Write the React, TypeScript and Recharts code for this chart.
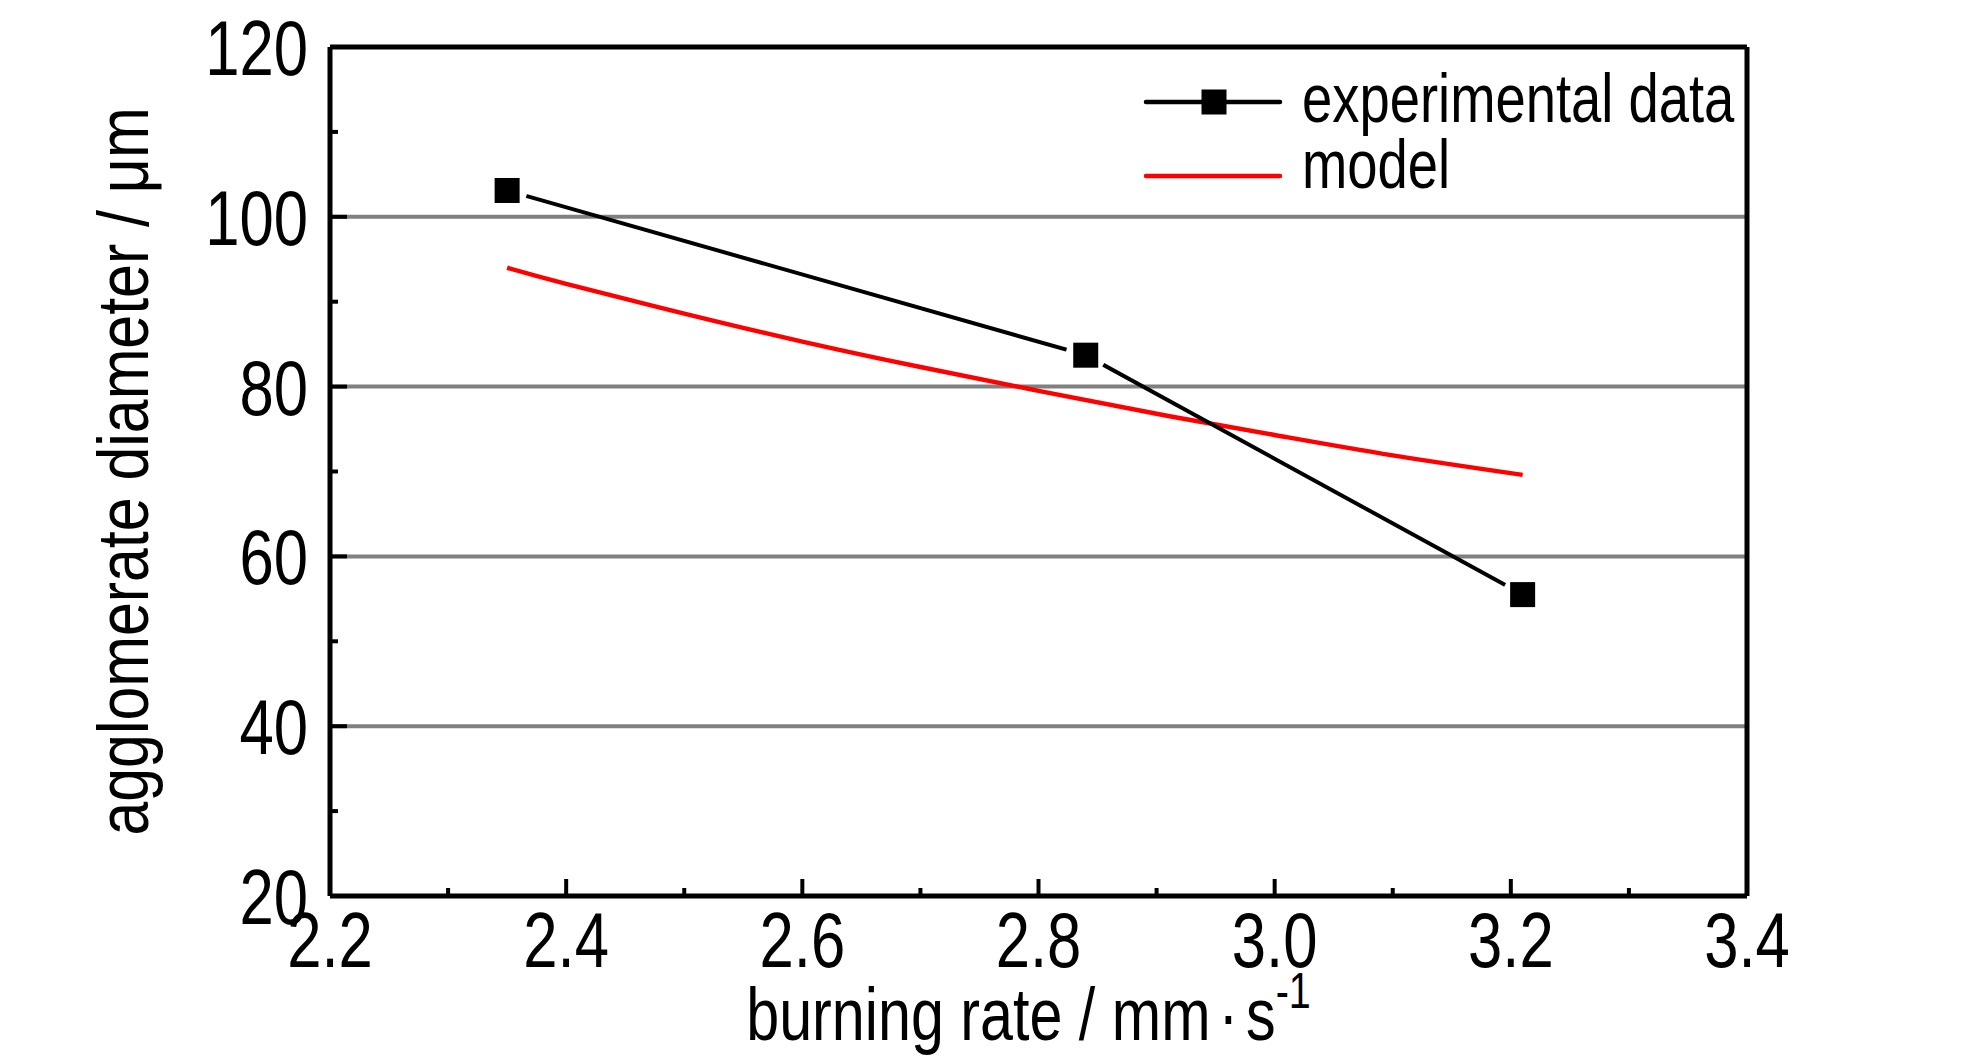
import { LineChart, Line, XAxis, YAxis, ReferenceLine, Legend } from 'recharts';

// experimental points and the model curve
const expRate = [2.35, 2.84, 3.21];
const expDiameter = [103.1, 83.7, 55.5];

const modelRate = [2.35, 2.4, 2.5, 2.6, 2.7, 2.8, 2.9, 3.0, 3.1, 3.21];
const modelDiameter = [94.0, 92.1, 88.6, 85.3, 82.3, 79.5, 76.8, 74.3, 71.9, 69.6];

const xMajor = [2.2, 2.4, 2.6, 2.8, 3.0, 3.2, 3.4];
const xMinor = [2.3, 2.5, 2.7, 2.9, 3.1, 3.3];
const yMajor = [20, 40, 60, 80, 100, 120];
const yMinor = [30, 50, 70, 90, 110];
const gridValues = [40, 60, 80, 100];

const seriesNames = ['experimental data', 'model'];

const FONT = '"Liberation Sans", Arial, sans-serif';

const expData = expRate.map((x, i) => ({ x, y: expDiameter[i] }));
const modelData = modelRate.map((x, i) => ({ x, y: modelDiameter[i] }));

const xTicks = [...xMajor, ...xMinor].sort((a, b) => a - b);
const yTicks = [...yMajor, ...yMinor].sort((a, b) => a - b);

function XTick(props: any) {
  const { x, y, payload } = props;
  const major = xMajor.includes(payload.value);
  return (
    <g>
      <line x1={x} y1={y} x2={x} y2={y - (major ? 17 : 8)} stroke="#000" strokeWidth={4} />
      {major && (
        <text
          transform={`translate(${x},${y + 71}) scale(0.79,1)`}
          textAnchor="middle"
          fontSize={78}
          fontFamily={FONT}
          fill="#000"
        >
          {payload.value.toFixed(1)}
        </text>
      )}
    </g>
  );
}

function YTick(props: any) {
  const { x, y, payload } = props;
  const major = yMajor.includes(payload.value);
  return (
    <g>
      <line x1={x} y1={y} x2={x + (major ? 17 : 8)} y2={y} stroke="#000" strokeWidth={4} />
      {major && (
        <text
          transform={`translate(${x - 22},${y + 28}) scale(0.79,1)`}
          textAnchor="end"
          fontSize={78}
          fontFamily={FONT}
          fill="#000"
        >
          {payload.value}
        </text>
      )}
    </g>
  );
}

function XTitle(props: any) {
  const vb = props.viewBox;
  const cx = vb.x + vb.width / 2 - 10;
  return (
    <text
      transform={`translate(${cx},${vb.y + 144}) scale(0.79,1)`}
      textAnchor="middle"
      fontSize={75}
      fontFamily={FONT}
      fill="#000"
    >
      <tspan>burning rate / mm</tspan>
      <tspan dx={10}>·</tspan>
      <tspan dx={10}>s</tspan>
      <tspan dy={-32} fontSize={50}>-1</tspan>
    </text>
  );
}

function YTitle(props: any) {
  const vb = props.viewBox;
  const cy = vb.y + vb.height / 2;
  return (
    <text
      transform={`translate(148,${cy}) rotate(-90) scale(0.845,1)`}
      textAnchor="middle"
      fontSize={72}
      fontFamily={FONT}
      fill="#000"
    >
      agglomerate diameter / μm
    </text>
  );
}

// square marker with a small white gap where the line meets it
function ExpDot(props: any) {
  const { cx, cy, index, points } = props;
  if (cx == null || cy == null) return <g key={`d${index}`} />;
  const gaps: any[] = [];
  if (Array.isArray(points)) {
    [points[index - 1], points[index + 1]].forEach((p, k) => {
      if (!p) return;
      const dx = p.x - cx;
      const dy = p.y - cy;
      const len = Math.hypot(dx, dy) || 1;
      gaps.push(
        <line
          key={k}
          x1={cx}
          y1={cy}
          x2={cx + (dx / len) * 20}
          y2={cy + (dy / len) * 20}
          stroke="#fff"
          strokeWidth={9}
        />
      );
    });
  }
  return (
    <g key={`d${index}`}>
      {gaps}
      <rect x={cx - 12.5} y={cy - 12.5} width={25} height={25} fill="#000" />
    </g>
  );
}

function LegendBox() {
  const rows = [
    { name: seriesNames[0], color: '#000', marker: true, lineY: 42, textY: 62 },
    { name: seriesNames[1], color: '#ff0000', marker: false, lineY: 116, textY: 128 },
  ];
  return (
    <svg width={640} height={150}>
      {rows.map(r => (
        <g key={r.name}>
          <line x1={16} y1={r.lineY} x2={150} y2={r.lineY} stroke={r.color} strokeWidth={4.5} strokeLinecap="round" />
          {r.marker && <rect x={71.5} y={r.lineY - 12.5} width={25} height={25} fill="#000" />}
          <text
            transform={`translate(172,${r.textY}) scale(0.8,1)`}
            fontSize={68}
            fontFamily={FONT}
            fill="#000"
          >
            {r.name}
          </text>
        </g>
      ))}
    </svg>
  );
}

export default function App() {
  return (
    <div style={{ position: 'absolute', left: 0, top: 0, width: 1984, height: 1063, background: '#fff' }}>
      <LineChart width={1984} height={1063} margin={{ top: 47, right: 237, bottom: 0, left: 0 }}>
        {gridValues.map(v => (
          <ReferenceLine key={v} y={v} stroke="#808080" strokeWidth={4} zIndex={-50} />
        ))}
        <XAxis
          type="number"
          dataKey="x"
          domain={[2.2, 3.4]}
          ticks={xTicks}
          interval={0}
          height={167}
          tickSize={0}
          tickMargin={0}
          tickLine={false}
          axisLine={{ stroke: '#000', strokeWidth: 5 }}
          tick={<XTick />}
          label={(p: any) => <XTitle {...p} />}
          allowDataOverflow
        />
        <YAxis
          type="number"
          dataKey="y"
          domain={[20, 120]}
          ticks={yTicks}
          interval={0}
          width={330}
          tickSize={0}
          tickMargin={0}
          tickLine={false}
          axisLine={{ stroke: '#000', strokeWidth: 5 }}
          tick={<YTick />}
          label={(p: any) => <YTitle {...p} />}
          allowDataOverflow
        />
        <ReferenceLine y={120} stroke="#000" strokeWidth={5} />
        <ReferenceLine x={3.4} stroke="#000" strokeWidth={5} />
        <Line
          data={modelData}
          dataKey="y"
          name={seriesNames[1]}
          type="natural"
          stroke="#ff0000"
          strokeWidth={4.5}
          dot={false}
          activeDot={false}
          isAnimationActive={false}
        />
        <Line
          data={expData}
          dataKey="y"
          name={seriesNames[0]}
          type="linear"
          stroke="#000"
          strokeWidth={4}
          dot={(p: any) => <ExpDot key={`d${p.index}`} {...p} />}
          activeDot={false}
          isAnimationActive={false}
        />
        <Legend
          layout="vertical"
          align="center"
          verticalAlign="middle"
          content={() => <LegendBox />}
          wrapperStyle={{ position: 'absolute', left: 1130, top: 60, width: 640, height: 150 }}
        />
      </LineChart>
    </div>
  );
}
